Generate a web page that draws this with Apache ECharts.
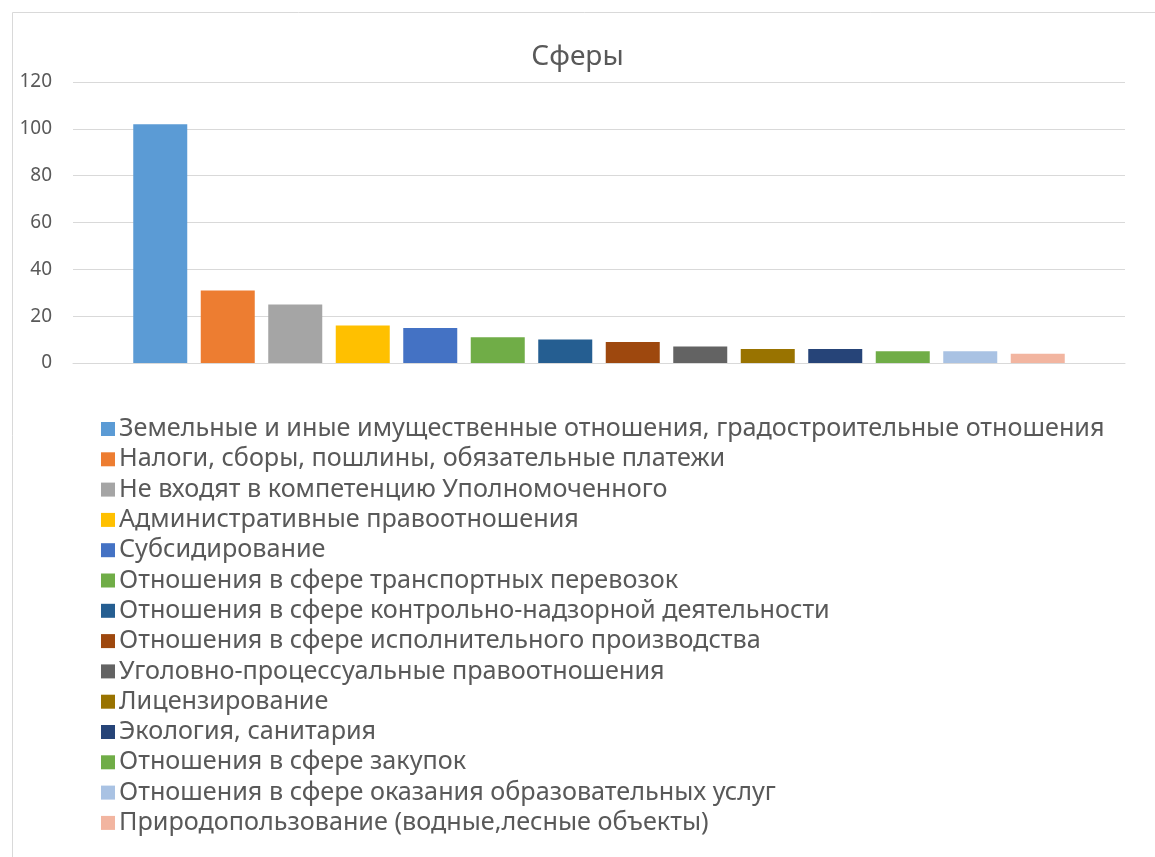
<!DOCTYPE html>
<html>
<head>
<meta charset="utf-8">
<script src="https://cdn.jsdelivr.net/npm/echarts@6/dist/echarts.min.js"></script>
<style>
html,body{margin:0;padding:0;background:#fff;}
#chart{width:1155px;height:857px;}
</style>
</head>
<body>
<div id="chart"></div>
<script>
const categories = [
  "Земельные и иные имущественные отношения, градостроительные отношения",
  "Налоги, сборы, пошлины, обязательные платежи",
  "Не входят в компетенцию Уполномоченного",
  "Административные правоотношения",
  "Субсидирование",
  "Отношения в сфере транспортных перевозок",
  "Отношения в сфере контрольно-надзорной деятельности",
  "Отношения в сфере исполнительного производства",
  "Уголовно-процессуальные правоотношения",
  "Лицензирование",
  "Экология, санитария",
  "Отношения в сфере закупок",
  "Отношения в сфере оказания образовательных услуг",
  "Природопользование (водные,лесные объекты)"
];
const values = [102, 31, 25, 16, 15, 11, 10, 9, 7, 6, 6, 5, 5, 4];
const colors = ["#5B9BD5", "#ED7D31", "#A5A5A5", "#FFC000", "#4472C4", "#70AD47",
  "#255E91", "#9E480E", "#636363", "#997300", "#264478", "#70AD47", "#A9C2E3", "#F2B5A0"];
const yTicks = [0, 20, 40, 60, 80, 100, 120];

const chart = echarts.init(document.getElementById('chart'));
const series = categories.map((name, i) => ({
  name: name,
  type: 'bar',
  data: [values[i]],
  barWidth: 54,
  barGap: '25%',
  itemStyle: { color: colors[i] },
  emphasis: { disabled: true }
}));

chart.setOption({
  animation: false,
  backgroundColor: '#fff',
  graphic: [{
    type: 'rect',
    shape: { x: 12.5, y: 12.5, width: 1160, height: 860 },
    style: { fill: 'none', stroke: '#d9d9d9', lineWidth: 1 },
    silent: true
  }],
  title: {
    text: 'Сферы',
    left: 'center',
    top: 38,
    textStyle: { fontFamily: 'Noto Sans', fontSize: 28, fontWeight: 'normal', color: '#595959' }
  },
  grid: { left: 73, right: 30, top: 82, bottom: 494, containLabel: false },
  xAxis: {
    type: 'category',
    data: [''],
    axisTick: { show: false },
    axisLabel: { show: false },
    axisLine: { lineStyle: { color: '#d9d9d9', width: 1 } }
  },
  yAxis: {
    type: 'value',
    min: yTicks[0],
    max: yTicks[yTicks.length - 1],
    interval: 20,
    axisLine: { show: false },
    axisTick: { show: false },
    axisLabel: { color: '#595959', fontFamily: 'Noto Sans', fontSize: 19, margin: 21 },
    splitLine: { lineStyle: { color: '#d9d9d9', width: 1 } }
  },
  legend: {
    orient: 'vertical',
    left: 96,
    top: 409,
    itemWidth: 14,
    itemHeight: 14,
    itemGap: 0.3,
    icon: 'rect',
    selectedMode: false,
    textStyle: { fontFamily: 'Noto Sans', fontSize: 25.2, color: '#595959', lineHeight: 30, padding: [0, 0, 0, -1] },
    data: categories
  },
  series: series
});
</script>
</body>
</html>
